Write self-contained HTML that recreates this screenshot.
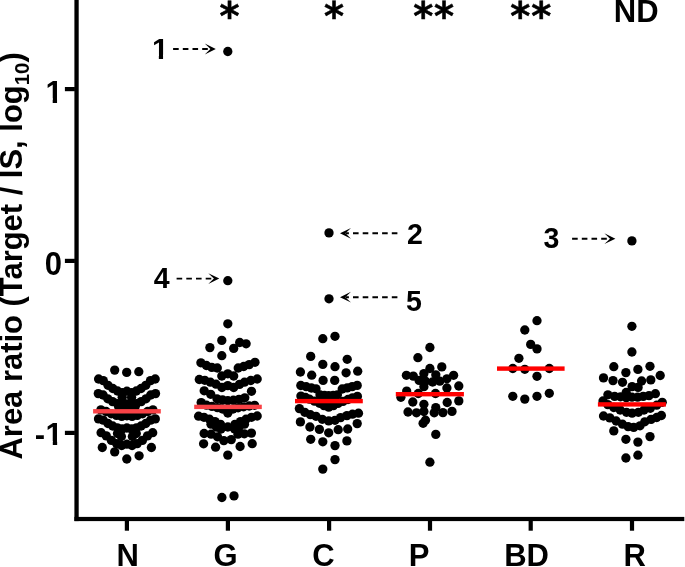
<!DOCTYPE html>
<html><head><meta charset="utf-8"><title>Area ratio plot</title>
<style>
html,body{margin:0;padding:0;background:#fff;}
svg{display:block}
text{font-family:"Liberation Sans", Arial, sans-serif;font-weight:bold;fill:#000}
</style></head><body>
<svg width="685" height="567" viewBox="0 0 685 567">
<rect width="685" height="567" fill="#fff"/>

<g fill="#000">
<rect x="74.4" y="0" width="4.3" height="521.1"/>
<rect x="74.4" y="516.9" width="609.9" height="4.2"/>
<rect x="64.9" y="87.0" width="10" height="4.2"/>
<rect x="64.9" y="258.8" width="10" height="4.2"/>
<rect x="64.9" y="430.8" width="10" height="4.2"/>
<rect x="124.8" y="520" width="4.2" height="10.7"/>
<rect x="225.8" y="520" width="4.2" height="10.7"/>
<rect x="327.0" y="520" width="4.2" height="10.7"/>
<rect x="427.9" y="520" width="4.2" height="10.7"/>
<rect x="528.6" y="520" width="4.2" height="10.7"/>
<rect x="629.9" y="520" width="4.2" height="10.7"/>
</g>
<g fill="#000">
<circle cx="114.7" cy="370.1" r="4.65"/>
<circle cx="126.7" cy="372.4" r="4.65"/>
<circle cx="138.8" cy="371.7" r="4.65"/>
<circle cx="98.6" cy="379.0" r="4.65"/>
<circle cx="103.3" cy="380.6" r="4.65"/>
<circle cx="108.0" cy="385.3" r="4.65"/>
<circle cx="112.8" cy="388.5" r="4.65"/>
<circle cx="117.5" cy="391.0" r="4.65"/>
<circle cx="122.2" cy="392.6" r="4.65"/>
<circle cx="126.9" cy="391.2" r="4.65"/>
<circle cx="131.6" cy="392.6" r="4.65"/>
<circle cx="136.3" cy="391.0" r="4.65"/>
<circle cx="141.1" cy="388.5" r="4.65"/>
<circle cx="145.8" cy="385.3" r="4.65"/>
<circle cx="150.5" cy="380.6" r="4.65"/>
<circle cx="155.2" cy="379.0" r="4.65"/>
<circle cx="98.3" cy="393.6" r="4.65"/>
<circle cx="103.1" cy="395.0" r="4.65"/>
<circle cx="107.8" cy="398.8" r="4.65"/>
<circle cx="112.6" cy="401.6" r="4.65"/>
<circle cx="117.4" cy="403.6" r="4.65"/>
<circle cx="122.1" cy="405.0" r="4.65"/>
<circle cx="126.9" cy="403.9" r="4.65"/>
<circle cx="131.7" cy="405.0" r="4.65"/>
<circle cx="136.4" cy="403.6" r="4.65"/>
<circle cx="141.2" cy="401.6" r="4.65"/>
<circle cx="146.0" cy="398.8" r="4.65"/>
<circle cx="150.7" cy="395.0" r="4.65"/>
<circle cx="155.5" cy="393.6" r="4.65"/>
<circle cx="100.9" cy="409.9" r="4.65"/>
<circle cx="106.1" cy="411.5" r="4.65"/>
<circle cx="111.3" cy="413.8" r="4.65"/>
<circle cx="116.5" cy="415.4" r="4.65"/>
<circle cx="121.7" cy="416.4" r="4.65"/>
<circle cx="126.9" cy="415.8" r="4.65"/>
<circle cx="132.1" cy="416.4" r="4.65"/>
<circle cx="137.3" cy="415.4" r="4.65"/>
<circle cx="142.5" cy="413.8" r="4.65"/>
<circle cx="147.7" cy="411.5" r="4.65"/>
<circle cx="152.9" cy="409.9" r="4.65"/>
<circle cx="98.5" cy="418.9" r="4.65"/>
<circle cx="103.2" cy="420.1" r="4.65"/>
<circle cx="108.0" cy="423.5" r="4.65"/>
<circle cx="112.7" cy="426.0" r="4.65"/>
<circle cx="117.4" cy="427.8" r="4.65"/>
<circle cx="122.2" cy="429.0" r="4.65"/>
<circle cx="126.9" cy="428.0" r="4.65"/>
<circle cx="131.6" cy="429.0" r="4.65"/>
<circle cx="136.4" cy="427.8" r="4.65"/>
<circle cx="141.1" cy="426.0" r="4.65"/>
<circle cx="145.8" cy="423.5" r="4.65"/>
<circle cx="150.6" cy="420.1" r="4.65"/>
<circle cx="155.3" cy="418.9" r="4.65"/>
<circle cx="101.1" cy="432.7" r="4.65"/>
<circle cx="106.3" cy="435.9" r="4.65"/>
<circle cx="111.4" cy="440.4" r="4.65"/>
<circle cx="116.6" cy="443.6" r="4.65"/>
<circle cx="121.7" cy="445.5" r="4.65"/>
<circle cx="126.9" cy="444.2" r="4.65"/>
<circle cx="132.1" cy="445.5" r="4.65"/>
<circle cx="137.2" cy="443.6" r="4.65"/>
<circle cx="142.4" cy="440.4" r="4.65"/>
<circle cx="147.5" cy="435.9" r="4.65"/>
<circle cx="152.7" cy="432.7" r="4.65"/>
<circle cx="102.3" cy="447.5" r="4.65"/>
<circle cx="114.7" cy="451.9" r="4.65"/>
<circle cx="126.8" cy="459.0" r="4.65"/>
<circle cx="139.1" cy="455.8" r="4.65"/>
<circle cx="151.4" cy="447.5" r="4.65"/>
<circle cx="122.2" cy="397.3" r="4.65"/>
<circle cx="131.6" cy="397.3" r="4.65"/>
<circle cx="118.7" cy="406.8" r="4.65"/>
<circle cx="122.2" cy="408.5" r="4.65"/>
<circle cx="131.6" cy="408.5" r="4.65"/>
<circle cx="135.1" cy="406.8" r="4.65"/>
<circle cx="126.9" cy="411.5" r="4.65"/>
<circle cx="117.5" cy="433.5" r="4.65"/>
<circle cx="136.3" cy="433.5" r="4.65"/>
<circle cx="121.4" cy="436.5" r="4.65"/>
<circle cx="132.4" cy="436.5" r="4.65"/>
<circle cx="227.8" cy="323.8" r="4.65"/>
<circle cx="221.8" cy="340.4" r="4.65"/>
<circle cx="209.9" cy="347.6" r="4.65"/>
<circle cx="221.8" cy="355.7" r="4.65"/>
<circle cx="233.7" cy="348.4" r="4.65"/>
<circle cx="239.7" cy="342.5" r="4.65"/>
<circle cx="246.1" cy="343.8" r="4.65"/>
<circle cx="200.9" cy="362.8" r="4.65"/>
<circle cx="206.4" cy="365.5" r="4.65"/>
<circle cx="211.8" cy="367.4" r="4.65"/>
<circle cx="217.3" cy="368.0" r="4.65"/>
<circle cx="221.8" cy="376.0" r="4.65"/>
<circle cx="227.8" cy="373.8" r="4.65"/>
<circle cx="233.7" cy="376.0" r="4.65"/>
<circle cx="238.2" cy="368.0" r="4.65"/>
<circle cx="243.7" cy="366.5" r="4.65"/>
<circle cx="249.2" cy="364.6" r="4.65"/>
<circle cx="255.0" cy="362.3" r="4.65"/>
<circle cx="199.3" cy="379.5" r="4.65"/>
<circle cx="204.8" cy="380.3" r="4.65"/>
<circle cx="210.4" cy="382.2" r="4.65"/>
<circle cx="216.0" cy="384.2" r="4.65"/>
<circle cx="221.9" cy="387.5" r="4.65"/>
<circle cx="227.8" cy="385.6" r="4.65"/>
<circle cx="233.7" cy="387.5" r="4.65"/>
<circle cx="239.5" cy="384.4" r="4.65"/>
<circle cx="244.5" cy="382.2" r="4.65"/>
<circle cx="250.8" cy="380.5" r="4.65"/>
<circle cx="257.2" cy="379.0" r="4.65"/>
<circle cx="204.2" cy="390.8" r="4.65"/>
<circle cx="210.7" cy="394.3" r="4.65"/>
<circle cx="217.0" cy="398.8" r="4.65"/>
<circle cx="222.6" cy="400.0" r="4.65"/>
<circle cx="227.8" cy="400.6" r="4.65"/>
<circle cx="233.4" cy="400.2" r="4.65"/>
<circle cx="239.0" cy="399.4" r="4.65"/>
<circle cx="244.8" cy="397.8" r="4.65"/>
<circle cx="251.5" cy="391.3" r="4.65"/>
<circle cx="201.2" cy="402.6" r="4.65"/>
<circle cx="206.5" cy="405.2" r="4.65"/>
<circle cx="212.0" cy="406.4" r="4.65"/>
<circle cx="217.5" cy="407.6" r="4.65"/>
<circle cx="222.6" cy="409.0" r="4.65"/>
<circle cx="227.8" cy="413.0" r="4.65"/>
<circle cx="233.0" cy="409.0" r="4.65"/>
<circle cx="238.1" cy="407.8" r="4.65"/>
<circle cx="243.6" cy="406.8" r="4.65"/>
<circle cx="249.2" cy="406.0" r="4.65"/>
<circle cx="254.6" cy="405.3" r="4.65"/>
<circle cx="198.6" cy="416.2" r="4.65"/>
<circle cx="204.0" cy="417.3" r="4.65"/>
<circle cx="209.5" cy="419.2" r="4.65"/>
<circle cx="215.0" cy="421.6" r="4.65"/>
<circle cx="220.5" cy="424.4" r="4.65"/>
<circle cx="227.8" cy="427.0" r="4.65"/>
<circle cx="235.0" cy="424.4" r="4.65"/>
<circle cx="240.5" cy="421.6" r="4.65"/>
<circle cx="246.0" cy="419.2" r="4.65"/>
<circle cx="251.5" cy="417.3" r="4.65"/>
<circle cx="257.2" cy="416.0" r="4.65"/>
<circle cx="221.0" cy="429.0" r="4.65"/>
<circle cx="234.6" cy="429.0" r="4.65"/>
<circle cx="211.0" cy="424.2" r="4.65"/>
<circle cx="216.5" cy="427.2" r="4.65"/>
<circle cx="239.0" cy="427.2" r="4.65"/>
<circle cx="244.5" cy="424.2" r="4.65"/>
<circle cx="204.1" cy="433.5" r="4.65"/>
<circle cx="211.1" cy="434.2" r="4.65"/>
<circle cx="217.5" cy="436.8" r="4.65"/>
<circle cx="223.8" cy="440.6" r="4.65"/>
<circle cx="231.3" cy="439.6" r="4.65"/>
<circle cx="238.0" cy="434.2" r="4.65"/>
<circle cx="244.3" cy="433.8" r="4.65"/>
<circle cx="251.4" cy="433.1" r="4.65"/>
<circle cx="203.6" cy="443.8" r="4.65"/>
<circle cx="215.6" cy="447.2" r="4.65"/>
<circle cx="227.8" cy="455.1" r="4.65"/>
<circle cx="240.1" cy="446.5" r="4.65"/>
<circle cx="252.2" cy="443.7" r="4.65"/>
<circle cx="221.9" cy="497.5" r="4.65"/>
<circle cx="234.0" cy="495.9" r="4.65"/>
<circle cx="227.8" cy="51.5" r="4.65"/>
<circle cx="227.8" cy="280.7" r="4.65"/>
<circle cx="322.8" cy="338.7" r="4.65"/>
<circle cx="335.0" cy="336.3" r="4.65"/>
<circle cx="310.7" cy="356.4" r="4.65"/>
<circle cx="347.2" cy="359.3" r="4.65"/>
<circle cx="322.8" cy="364.4" r="4.65"/>
<circle cx="335.0" cy="366.7" r="4.65"/>
<circle cx="300.4" cy="372.0" r="4.65"/>
<circle cx="311.7" cy="375.2" r="4.65"/>
<circle cx="346.1" cy="372.8" r="4.65"/>
<circle cx="357.7" cy="371.2" r="4.65"/>
<circle cx="323.1" cy="380.4" r="4.65"/>
<circle cx="334.7" cy="380.4" r="4.65"/>
<circle cx="300.8" cy="385.5" r="4.65"/>
<circle cx="306.2" cy="386.7" r="4.65"/>
<circle cx="311.4" cy="388.0" r="4.65"/>
<circle cx="316.0" cy="388.8" r="4.65"/>
<circle cx="320.0" cy="394.8" r="4.65"/>
<circle cx="324.5" cy="395.5" r="4.65"/>
<circle cx="328.7" cy="395.7" r="4.65"/>
<circle cx="333.2" cy="395.5" r="4.65"/>
<circle cx="337.4" cy="394.8" r="4.65"/>
<circle cx="342.2" cy="389.0" r="4.65"/>
<circle cx="347.2" cy="387.9" r="4.65"/>
<circle cx="352.2" cy="386.6" r="4.65"/>
<circle cx="357.2" cy="385.4" r="4.65"/>
<circle cx="300.9" cy="396.1" r="4.65"/>
<circle cx="305.5" cy="397.5" r="4.65"/>
<circle cx="309.5" cy="399.2" r="4.65"/>
<circle cx="314.5" cy="401.2" r="4.65"/>
<circle cx="319.5" cy="403.3" r="4.65"/>
<circle cx="324.0" cy="405.6" r="4.65"/>
<circle cx="328.7" cy="407.2" r="4.65"/>
<circle cx="333.4" cy="405.6" r="4.65"/>
<circle cx="338.0" cy="403.4" r="4.65"/>
<circle cx="343.0" cy="401.4" r="4.65"/>
<circle cx="348.0" cy="399.5" r="4.65"/>
<circle cx="352.5" cy="397.8" r="4.65"/>
<circle cx="357.4" cy="396.4" r="4.65"/>
<circle cx="299.4" cy="408.6" r="4.65"/>
<circle cx="304.8" cy="412.3" r="4.65"/>
<circle cx="310.4" cy="414.7" r="4.65"/>
<circle cx="316.0" cy="416.3" r="4.65"/>
<circle cx="322.3" cy="419.3" r="4.65"/>
<circle cx="328.7" cy="420.9" r="4.65"/>
<circle cx="335.0" cy="420.3" r="4.65"/>
<circle cx="340.6" cy="417.6" r="4.65"/>
<circle cx="346.9" cy="415.6" r="4.65"/>
<circle cx="352.5" cy="414.2" r="4.65"/>
<circle cx="358.5" cy="413.2" r="4.65"/>
<circle cx="300.4" cy="421.9" r="4.65"/>
<circle cx="309.9" cy="427.0" r="4.65"/>
<circle cx="319.4" cy="429.4" r="4.65"/>
<circle cx="328.7" cy="432.8" r="4.65"/>
<circle cx="338.2" cy="429.7" r="4.65"/>
<circle cx="347.7" cy="429.0" r="4.65"/>
<circle cx="357.2" cy="423.6" r="4.65"/>
<circle cx="310.7" cy="439.3" r="4.65"/>
<circle cx="322.8" cy="441.8" r="4.65"/>
<circle cx="335.0" cy="445.6" r="4.65"/>
<circle cx="346.9" cy="440.9" r="4.65"/>
<circle cx="335.0" cy="459.6" r="4.65"/>
<circle cx="322.8" cy="469.1" r="4.65"/>
<circle cx="329.0" cy="232.9" r="4.65"/>
<circle cx="329.0" cy="298.8" r="4.65"/>
<circle cx="429.9" cy="347.5" r="4.65"/>
<circle cx="417.9" cy="357.7" r="4.65"/>
<circle cx="429.9" cy="368.5" r="4.65"/>
<circle cx="441.8" cy="366.9" r="4.65"/>
<circle cx="406.4" cy="375.3" r="4.65"/>
<circle cx="413.3" cy="376.1" r="4.65"/>
<circle cx="423.9" cy="373.6" r="4.65"/>
<circle cx="435.8" cy="374.8" r="4.65"/>
<circle cx="453.6" cy="375.3" r="4.65"/>
<circle cx="419.1" cy="380.4" r="4.65"/>
<circle cx="425.5" cy="381.2" r="4.65"/>
<circle cx="432.6" cy="382.0" r="4.65"/>
<circle cx="439.8" cy="381.2" r="4.65"/>
<circle cx="446.9" cy="378.8" r="4.65"/>
<circle cx="423.9" cy="386.7" r="4.65"/>
<circle cx="446.9" cy="388.0" r="4.65"/>
<circle cx="458.8" cy="386.0" r="4.65"/>
<circle cx="406.7" cy="391.1" r="4.65"/>
<circle cx="418.3" cy="393.5" r="4.65"/>
<circle cx="435.5" cy="393.5" r="4.65"/>
<circle cx="400.9" cy="397.3" r="4.65"/>
<circle cx="412.8" cy="402.0" r="4.65"/>
<circle cx="423.9" cy="404.3" r="4.65"/>
<circle cx="435.8" cy="407.6" r="4.65"/>
<circle cx="447.2" cy="402.5" r="4.65"/>
<circle cx="458.8" cy="400.9" r="4.65"/>
<circle cx="408.0" cy="412.0" r="4.65"/>
<circle cx="416.5" cy="412.8" r="4.65"/>
<circle cx="423.9" cy="411.5" r="4.65"/>
<circle cx="434.2" cy="412.8" r="4.65"/>
<circle cx="442.9" cy="412.6" r="4.65"/>
<circle cx="452.0" cy="411.4" r="4.65"/>
<circle cx="425.5" cy="420.2" r="4.65"/>
<circle cx="423.1" cy="423.3" r="4.65"/>
<circle cx="435.8" cy="434.4" r="4.65"/>
<circle cx="429.9" cy="462.2" r="4.65"/>
<circle cx="537.0" cy="320.7" r="4.65"/>
<circle cx="524.8" cy="330.0" r="4.65"/>
<circle cx="530.7" cy="344.4" r="4.65"/>
<circle cx="537.0" cy="348.9" r="4.65"/>
<circle cx="518.9" cy="358.3" r="4.65"/>
<circle cx="512.8" cy="368.5" r="4.65"/>
<circle cx="524.8" cy="369.3" r="4.65"/>
<circle cx="549.3" cy="368.5" r="4.65"/>
<circle cx="537.0" cy="376.3" r="4.65"/>
<circle cx="512.8" cy="396.3" r="4.65"/>
<circle cx="524.8" cy="399.1" r="4.65"/>
<circle cx="537.0" cy="396.3" r="4.65"/>
<circle cx="549.3" cy="393.3" r="4.65"/>
<circle cx="631.9" cy="326.3" r="4.65"/>
<circle cx="631.9" cy="352.0" r="4.65"/>
<circle cx="613.8" cy="366.7" r="4.65"/>
<circle cx="650.0" cy="366.3" r="4.65"/>
<circle cx="637.9" cy="369.4" r="4.65"/>
<circle cx="625.9" cy="372.6" r="4.65"/>
<circle cx="660.2" cy="375.5" r="4.65"/>
<circle cx="603.5" cy="377.9" r="4.65"/>
<circle cx="613.0" cy="380.6" r="4.65"/>
<circle cx="622.5" cy="382.3" r="4.65"/>
<circle cx="641.6" cy="381.0" r="4.65"/>
<circle cx="650.8" cy="379.9" r="4.65"/>
<circle cx="632.1" cy="386.6" r="4.65"/>
<circle cx="638.1" cy="387.4" r="4.65"/>
<circle cx="626.2" cy="392.5" r="4.65"/>
<circle cx="607.9" cy="394.8" r="4.65"/>
<circle cx="614.6" cy="396.4" r="4.65"/>
<circle cx="620.5" cy="396.8" r="4.65"/>
<circle cx="626.3" cy="397.6" r="4.65"/>
<circle cx="632.0" cy="397.2" r="4.65"/>
<circle cx="637.6" cy="397.2" r="4.65"/>
<circle cx="643.2" cy="396.4" r="4.65"/>
<circle cx="649.0" cy="395.6" r="4.65"/>
<circle cx="655.4" cy="393.7" r="4.65"/>
<circle cx="603.0" cy="401.0" r="4.65"/>
<circle cx="607.8" cy="404.6" r="4.65"/>
<circle cx="613.8" cy="407.5" r="4.65"/>
<circle cx="620.2" cy="410.0" r="4.65"/>
<circle cx="626.5" cy="412.3" r="4.65"/>
<circle cx="632.1" cy="413.1" r="4.65"/>
<circle cx="638.4" cy="412.3" r="4.65"/>
<circle cx="644.0" cy="410.0" r="4.65"/>
<circle cx="650.3" cy="408.3" r="4.65"/>
<circle cx="656.7" cy="405.2" r="4.65"/>
<circle cx="662.2" cy="402.3" r="4.65"/>
<circle cx="603.5" cy="416.0" r="4.65"/>
<circle cx="609.8" cy="417.9" r="4.65"/>
<circle cx="616.2" cy="421.0" r="4.65"/>
<circle cx="622.5" cy="424.2" r="4.65"/>
<circle cx="628.1" cy="426.6" r="4.65"/>
<circle cx="633.7" cy="427.4" r="4.65"/>
<circle cx="640.0" cy="425.8" r="4.65"/>
<circle cx="644.8" cy="421.8" r="4.65"/>
<circle cx="651.1" cy="419.4" r="4.65"/>
<circle cx="656.7" cy="417.5" r="4.65"/>
<circle cx="661.4" cy="415.5" r="4.65"/>
<circle cx="613.8" cy="430.9" r="4.65"/>
<circle cx="650.0" cy="436.6" r="4.65"/>
<circle cx="625.9" cy="439.3" r="4.65"/>
<circle cx="637.9" cy="442.1" r="4.65"/>
<circle cx="625.9" cy="458.0" r="4.65"/>
<circle cx="637.9" cy="455.2" r="4.65"/>
<circle cx="631.9" cy="240.9" r="4.65"/>
</g>
<rect x="93.1" y="409.10" width="67.7" height="4.4" fill="#f94246"/>
<rect x="194.2" y="404.70" width="67.6" height="4.4" fill="#f94246"/>
<rect x="295.0" y="398.90" width="67.8" height="4.4" fill="#ff0000"/>
<rect x="395.8" y="392.00" width="68.1" height="4.4" fill="#ff0000"/>
<rect x="497.0" y="366.40" width="67.6" height="4.4" fill="#ff0000"/>
<rect x="597.9" y="402.20" width="68.0" height="4.4" fill="#ff0000"/>
<g font-size="31">
<clipPath id="c1"><rect x="43.51" y="79.17" width="21.24" height="19.16"/><rect x="52.70" y="79.17" width="4.35" height="25.33"/></clipPath><text x="45.51" y="102.5" font-size="31" clip-path="url(#c1)">1</text>
<text transform="translate(61.9,275.45) scale(1,1.05)" text-anchor="end">0</text>
<clipPath id="c2"><rect x="32.70" y="421.87" width="32.15" height="19.16"/><rect x="52.80" y="421.87" width="4.35" height="25.33"/></clipPath><text y="445.2" font-size="31" clip-path="url(#c2)"><tspan x="34.7">-</tspan><tspan x="45.61">1</tspan></text>
<text x="127.7" y="566.3" text-anchor="middle">N</text>
<text x="225.5" y="566.3" text-anchor="middle">G</text>
<text x="323.5" y="566.3" text-anchor="middle">C</text>
<text x="419.2" y="566.3" text-anchor="middle">P</text>
<text x="526.6" y="566.3" text-anchor="middle">BD</text>
<text x="634.8" y="566.3" text-anchor="middle">R</text>
<text x="636.2" y="22.2" text-anchor="middle">ND</text>
</g>
<g stroke="#000" stroke-width="0.5" font-size="38.3" font-family="DejaVu Sans, sans-serif" style="font-family:'DejaVu Sans',sans-serif">
<text x="229.6" y="29.9" text-anchor="middle" style="font-family:'DejaVu Sans',sans-serif">*</text>
<text x="334.1" y="29.9" text-anchor="middle" style="font-family:'DejaVu Sans',sans-serif">*</text>
<text x="413.2" y="29.9" letter-spacing="0.9" style="font-family:'DejaVu Sans',sans-serif">**</text>
<text x="510.3" y="29.9" letter-spacing="0.9" style="font-family:'DejaVu Sans',sans-serif">**</text>
</g>
<text transform="translate(22.3,459.5) rotate(-90)" font-size="30.95">Area ratio (Target / IS, log<tspan font-size="20.5" dy="7">10</tspan><tspan dy="-7">)</tspan></text>
<g font-size="29.9">
<clipPath id="c3"><rect x="149.92" y="36.23" width="20.63" height="18.52"/><rect x="158.85" y="36.23" width="4.20" height="24.57"/></clipPath><text x="151.92" y="58.8" font-size="29.9" clip-path="url(#c3)">1</text>
<text transform="translate(161.65,287.7) scale(0.955,1)" text-anchor="middle">4</text>
<text transform="translate(415.05,244.3) scale(0.955,1)" text-anchor="middle">2</text>
<text transform="translate(413.9,311.4) scale(0.955,1)" text-anchor="middle">5</text>
<text transform="translate(551.35,247.9) scale(0.955,1)" text-anchor="middle">3</text>
</g>
<line x1="173.1" y1="49.0" x2="209.9" y2="49.0" stroke="#000" stroke-width="1.9" stroke-dasharray="5.6 4.1" fill="none"/><path d="M215.8,49.0 L204.8,43.6 Q208.3,47.0 210.4,49.0 Q208.3,51.0 204.8,54.4 Z" fill="#000"/>
<line x1="176.6" y1="278.6" x2="213.4" y2="278.6" stroke="#000" stroke-width="1.9" stroke-dasharray="5.6 4.1" fill="none"/><path d="M219.3,278.6 L208.3,273.2 Q211.8,276.6 213.9,278.6 Q211.8,280.6 208.3,284.0 Z" fill="#000"/>
<line x1="397.4" y1="233.3" x2="345.9" y2="233.3" stroke="#000" stroke-width="1.9" stroke-dasharray="5.6 4.1" fill="none"/><path d="M340.0,233.3 L351.0,227.9 Q347.5,231.3 345.4,233.3 Q347.5,235.3 351.0,238.7 Z" fill="#000"/>
<line x1="397.4" y1="297.2" x2="345.9" y2="297.2" stroke="#000" stroke-width="1.9" stroke-dasharray="5.6 4.1" fill="none"/><path d="M340.0,297.2 L351.0,291.8 Q347.5,295.2 345.4,297.2 Q347.5,299.2 351.0,302.6 Z" fill="#000"/>
<line x1="572.1" y1="238.7" x2="609.5" y2="238.7" stroke="#000" stroke-width="1.9" stroke-dasharray="5.6 4.1" fill="none"/><path d="M615.4,238.7 L604.4,233.3 Q607.9,236.7 610.0,238.7 Q607.9,240.7 604.4,244.1 Z" fill="#000"/>
</svg></body></html>
